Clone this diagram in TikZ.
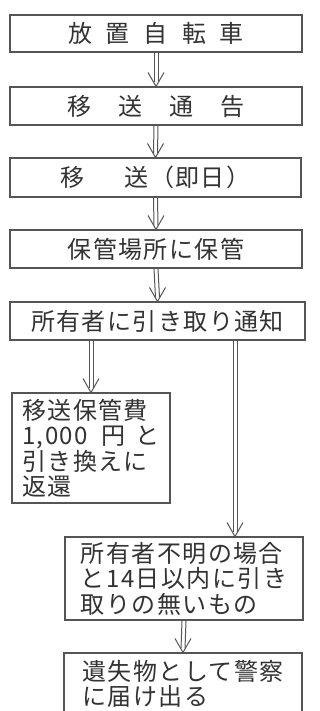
\documentclass[tikz,border=0pt]{standalone}
\usepackage{fontspec}
\newfontfamily\jp[LetterSpace=6]{Noto Sans CJK JP}
\usetikzlibrary{calc}
\definecolor{ln}{HTML}{555555}
\definecolor{tx}{HTML}{333333}
\newcommand\dblarr[2]{%
  \draw[ar] ([xshift=-2pt]#1) -- ([xshift=-2pt,yshift=4pt]#2);
  \draw[ar] ([xshift=2pt]#1) -- ([xshift=2pt,yshift=4pt]#2);
  \draw[ar, line join=miter] ([xshift=-8pt,yshift=14pt]#2) -- (#2) -- ([xshift=8pt,yshift=14pt]#2);}
\begin{document}
\begin{tikzpicture}[x=1pt,y=-1pt,
  box/.style={draw=ln, line width=1.1pt, rectangle, inner sep=0pt, text=tx,
    font=\jp\fontsize{24}{25.5}\selectfont, align=center},
  lbox/.style={box, align=left},
  ar/.style={draw=ln, line width=1pt}]
\useasboundingbox[fill=white] (0,0) rectangle (320,711);
\node[box, minimum width=292pt, minimum height=37pt] (b1) at (156,33.5)
  {放\hspace{14pt}置\hspace{14pt}自\hspace{14pt}転\hspace{14pt}車};
\node[box, minimum width=292pt, minimum height=38pt] (b2) at (156,106)
  {移\hspace{27pt}送\hspace{27pt}通\hspace{27pt}告};
\node[box, minimum width=291pt, minimum height=39pt] (b3) at (155.5,177.5)
  {移\hspace{40pt}送（即日）};
\node[box, minimum width=292pt, minimum height=38pt] (b4) at (156,249)
  {保管場所に保管};
\node[box, minimum width=295pt, minimum height=38pt] (b5) at (157.5,321)
  {所有者に引き取り通知};
\node[lbox, minimum width=158pt, minimum height=110pt] (lb) at (91,448)
  {移送保管費\\1,000\hspace{14pt}円\hspace{10pt}と\\引き換えに\\返還};
\node[lbox, minimum width=238pt, minimum height=83pt] (rb) at (184,578.5)
  {所有者不明の場合\\と14日以内に引き\\取りの無いもの};
\node[lbox, minimum width=238pt, minimum height=62pt] (fb) at (183,684)
  {遺失物として警察\\に届け出る};
\coordinate (lt) at (lb.north);
\coordinate (ls) at (b5.south -| lt);
\coordinate (rt) at ([xshift=51pt]rb.north);
\coordinate (rs) at (b5.south -| rt);
\dblarr{b1.south}{b2.north}
\dblarr{b2.south}{b3.north}
\dblarr{b3.south}{b4.north}
\dblarr{b4.south}{b5.north}
\dblarr{ls}{lt}
\dblarr{rs}{rt}
\dblarr{rb.south}{fb.north}
\end{tikzpicture}
\end{document}
